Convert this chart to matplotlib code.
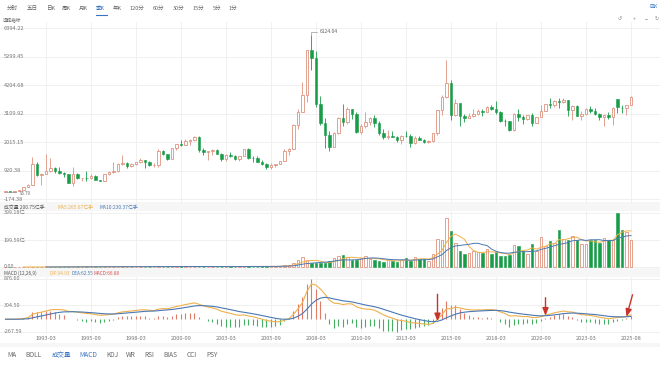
import numpy as np
import pandas as pd
import matplotlib
matplotlib.use("Agg")
import matplotlib.pyplot as plt
from matplotlib.patches import Rectangle
from matplotlib.transforms import blended_transform_factory

W_PX, H_PX = 660, 365

# ---- data: Shanghai composite, quarterly K (1990Q4 .. 2025Q3) ----
OPEN = [
    96.05, 127.61, 120.0, 137.0, 180.0,
    293.0, 382.0, 1190.0, 760.0,
    785.0, 925.0, 1007.0, 900.0,
    834.0, 780.0, 467.0, 810.0,
    648.0, 650.0, 630.0, 720.0,
    555.0, 540.0, 800.0, 860.0,
    917.0, 1190.0, 1200.0, 1100.0,
    1194.0, 1243.0, 1339.0, 1240.0,
    1147.0, 1158.0, 1690.0, 1560.0,
    1367.0, 1800.0, 1928.0, 1911.0,
    2073.0, 2112.0, 2218.0, 1700.0,
    1646.0, 1660.0, 1733.0, 1581.0,
    1358.0, 1511.0, 1487.0, 1367.0,
    1497.0, 1742.0, 1400.0, 1396.0,
    1267.0, 1181.0, 1081.0, 1156.0,
    1161.0, 1299.0, 1672.0, 1753.0,
    2675.0, 3183.0, 3821.0, 5552.0,
    5262.0, 3473.0, 2736.0, 2293.0,
    1821.0, 2373.0, 2959.0, 2779.0,
    3277.0, 3109.0, 2398.0, 2656.0,
    2808.0, 2928.0, 2762.0, 2359.0,
    2199.0, 2262.0, 2225.0, 2086.0,
    2269.0, 2237.0, 1979.0, 2175.0,
    2116.0, 2033.0, 2048.0, 2364.0,
    3235.0, 3748.0, 4277.0, 3053.0,
    3539.0, 3004.0, 2930.0, 3005.0,
    3104.0, 3223.0, 3192.0, 3349.0,
    3307.0, 3169.0, 2847.0, 2821.0,
    2494.0, 3091.0, 2979.0, 2905.0,
    3050.0, 2750.0, 2985.0, 3218.0,
    3473.0, 3441.0, 3591.0, 3568.0,
    3640.0, 3252.0, 3399.0, 3024.0,
    3089.0, 3273.0, 3202.0, 3110.0,
    2975.0, 3041.0, 2967.0, 3674.0,
    3347.0, 3345.0, 3445.0,
]
HIGH = [
    127.61, 135.0, 137.0, 190.0, 293.0,
    400.0, 1429.0, 1250.0, 830.0,
    1558.0, 1393.0, 1060.0, 1044.0,
    880.0, 800.0, 1052.0, 820.0,
    650.0, 926.0, 800.0, 760.0,
    570.0, 800.0, 890.0, 1258.0,
    1200.0, 1510.0, 1250.0, 1220.0,
    1260.0, 1422.0, 1350.0, 1300.0,
    1210.0, 1756.0, 1720.0, 1580.0,
    1810.0, 1950.0, 2114.0, 2125.0,
    2150.0, 2245.0, 2242.0, 1800.0,
    1690.0, 1748.0, 1748.0, 1600.0,
    1565.0, 1650.0, 1520.0, 1500.0,
    1760.0, 1783.0, 1500.0, 1500.0,
    1328.0, 1200.0, 1224.0, 1180.0,
    1306.0, 1757.0, 1800.0, 2698.0,
    3275.0, 4336.0, 5555.0, 6124.04,
    5522.0, 3786.0, 2952.0, 2447.0,
    2420.0, 2990.0, 3478.0, 3361.0,
    3306.0, 3182.0, 2700.0, 3186.0,
    3000.0, 3067.0, 2827.0, 2536.0,
    2478.0, 2453.0, 2242.0, 2280.0,
    2444.0, 2334.0, 2270.0, 2260.0,
    2130.0, 2106.0, 2366.0, 3240.0,
    3835.0, 5178.0, 4400.0, 3684.0,
    3539.0, 3097.0, 3141.0, 3301.0,
    3301.0, 3295.0, 3391.0, 3450.0,
    3587.0, 3220.0, 2915.0, 2830.0,
    3130.0, 3288.0, 3048.0, 3069.0,
    3127.0, 3000.0, 3458.0, 3474.0,
    3731.0, 3626.0, 3723.0, 3708.0,
    3651.0, 3425.0, 3425.0, 3226.0,
    3342.0, 3419.0, 3322.0, 3123.0,
    3092.0, 3175.0, 3358.0, 3674.0,
    3440.0, 3455.0, 3780.0,
]
LOW = [
    95.79, 114.0, 105.0, 136.0, 179.0,
    292.0, 380.0, 700.0, 386.0,
    780.0, 870.0, 820.0, 790.0,
    690.0, 460.0, 325.0, 600.0,
    524.0, 540.0, 620.0, 550.0,
    512.0, 530.0, 750.0, 850.0,
    870.0, 1140.0, 1025.0, 1050.0,
    1130.0, 1230.0, 1040.0, 1100.0,
    1050.0, 1064.0, 1520.0, 1340.0,
    1361.0, 1700.0, 1870.0, 1900.0,
    1890.0, 2070.0, 1640.0, 1514.0,
    1340.0, 1520.0, 1560.0, 1311.0,
    1311.0, 1464.0, 1340.0, 1307.0,
    1496.0, 1380.0, 1260.0, 1259.0,
    1157.0, 998.0, 1000.0, 1074.0,
    1160.0, 1290.0, 1541.0, 1738.0,
    2541.0, 3183.0, 3563.0, 4778.0,
    3357.0, 2693.0, 1802.0, 1664.0,
    1814.0, 2320.0, 2639.0, 2712.0,
    2891.0, 2382.0, 2319.0, 2574.0,
    2661.0, 2610.0, 2307.0, 2134.0,
    2132.0, 2213.0, 2029.0, 1949.0,
    2206.0, 1849.0, 1950.0, 2086.0,
    1974.0, 1991.0, 2040.0, 2289.0,
    3049.0, 3730.0, 2850.0, 3011.0,
    2638.0, 2780.0, 2930.0, 2970.0,
    3044.0, 3016.0, 3162.0, 3254.0,
    3091.0, 2782.0, 2645.0, 2449.0,
    2440.0, 2822.0, 2733.0, 2857.0,
    2646.0, 2742.0, 2984.0, 3209.0,
    3328.0, 3372.0, 3313.0, 3512.0,
    3023.0, 2863.0, 3021.0, 2886.0,
    3064.0, 3137.0, 3072.0, 2882.0,
    2635.0, 2924.0, 2689.0, 3140.0,
    3141.0, 3041.0, 3440.0,
]
CLOSE = [
    127.61, 120.0, 137.0, 180.0, 292.75,
    382.0, 1193.0, 760.0, 780.39,
    925.0, 1007.0, 900.0, 833.8,
    780.0, 467.0, 810.0, 647.87,
    648.0, 630.0, 720.0, 555.29,
    540.0, 800.0, 860.0, 917.02,
    1190.0, 1200.0, 1100.0, 1194.1,
    1243.0, 1339.0, 1240.0, 1146.7,
    1158.0, 1690.0, 1560.0, 1366.58,
    1800.0, 1928.0, 1911.0, 2073.48,
    2112.0, 2218.0, 1700.0, 1645.97,
    1660.0, 1733.0, 1581.0, 1357.65,
    1511.0, 1487.0, 1367.0, 1497.04,
    1742.0, 1400.0, 1396.0, 1266.5,
    1181.0, 1081.0, 1156.0, 1161.06,
    1299.0, 1672.0, 1753.0, 2675.47,
    3183.0, 3821.0, 5552.3, 5261.56,
    3473.0, 2736.0, 2293.0, 1820.81,
    2373.0, 2959.0, 2779.0, 3277.14,
    3109.0, 2398.0, 2656.0, 2808.08,
    2928.0, 2762.0, 2359.0, 2199.42,
    2262.0, 2225.0, 2086.0, 2269.13,
    2237.0, 1979.0, 2175.0, 2115.98,
    2033.0, 2048.0, 2364.0, 3234.68,
    3748.0, 4277.0, 3053.0, 3539.18,
    3004.0, 2930.0, 3005.0, 3103.64,
    3223.0, 3192.0, 3349.0, 3307.17,
    3169.0, 2847.0, 2821.0, 2493.9,
    3091.0, 2979.0, 2905.0, 3050.12,
    2750.0, 2985.0, 3218.0, 3473.07,
    3441.0, 3591.0, 3568.0, 3639.78,
    3252.0, 3399.0, 3024.0, 3089.26,
    3273.0, 3202.0, 3110.0, 2974.93,
    3041.0, 2967.0, 3336.5, 3351.76,
    3336.0, 3444.0, 3770.0,
]
# volume, 亿
VOLUME = [
    0.01, 0.02, 0.02, 0.03, 0.05,
    0.1, 0.2, 0.3, 0.5,
    0.9, 0.8, 0.7, 0.9,
    0.8, 0.6, 2.5, 1.5,
    1.0, 1.6, 0.9, 0.7,
    0.8, 2.0, 2.6, 3.5,
    3.0, 4.5, 2.5, 2.2,
    2.5, 3.5, 2.3, 2.0,
    1.8, 5.0, 3.5, 2.0,
    5.5, 4.5, 4.5, 4.0,
    3.5, 3.5, 2.8, 3.0,
    2.5, 4.0, 2.5, 2.5,
    4.0, 4.5, 3.0, 4.0,
    6.5, 4.5, 3.5, 3.5,
    4.0, 4.0, 5.5, 4.5,
    7.0, 15.0, 12.0, 30.0,
    55.0, 72.0, 52.0, 33.0,
    32.0, 28.0, 26.0, 42.0,
    70.0, 78.0, 90.0, 74.0,
    50.0, 50.0, 70.0, 78.0,
    62.0, 50.0, 45.0, 38.0,
    56.0, 46.0, 40.0, 51.0,
    63.0, 48.0, 75.0, 61.0,
    61.0, 48.0, 99.0, 206.0,
    196.0, 365.0, 269.0, 177.0,
    116.0, 97.0, 104.0, 116.0,
    109.0, 104.0, 133.0, 97.0,
    109.0, 80.0, 80.0, 92.0,
    165.0, 157.0, 116.0, 99.0,
    172.0, 116.0, 225.0, 152.0,
    189.0, 177.0, 273.0, 206.0,
    201.0, 230.0, 196.0, 169.0,
    169.0, 201.0, 196.0, 177.0,
    213.0, 201.0, 201.0, 399.18,
    273.0, 261.0, 200.75,
]

DATES = [f"{p.year}-{p.quarter * 3:02d}" for p in pd.period_range("1990Q4", "2025Q2", freq="Q")] + ["2025-08"]
X_TICKS = ["1993-03", "1995-09", "1998-03", "2000-09", "2003-03", "2005-09", "2008-03",
           "2010-09", "2013-03", "2015-09", "2018-03", "2020-09", "2023-03", "2025-08"]

MAIN_LEVELS = [6394.22, 5299.45, 4204.68, 3109.92, 2015.15, 920.38, -174.38]
VOL_LEVELS = [399.18, 199.59, 0.00]
VOL_LABELS = ["399.18亿", "199.59亿", "0.00"]
MACD_LEVELS = [876.60, 304.50, -267.59]

TOP_TABS = ["分时", "五日", "日K", "周K", "月K", "季K", "年K", "120分", "60分", "30分", "15分", "5分", "1分"]
BOTTOM_TABS = ["MA", "BOLL", "成交量", "MACD", "KDJ", "WR", "RSI", "BIAS", "CCI", "PSY"]
ARROW_DATES = ["2014-12", "2020-12", "2025-06"]

UP = "#df9380"
DOWN = "#179c48"
GRID = "#eeeeee"
LABEL = "#777777"
BLUE = "#3a74c4"
ORANGE = "#efb049"
DEA_BLUE = "#4a78b4"

plt.rcParams["font.family"] = ["Noto Sans CJK SC", "DejaVu Sans"]


def px_axes(fig, x0, y0, x1, y1):
    ax = fig.add_axes([x0 / W_PX, 1 - y1 / H_PX, (x1 - x0) / W_PX, (y1 - y0) / H_PX])
    ax.set_facecolor("none")
    for s in ax.spines.values():
        s.set_visible(False)
    return ax


def fit_ylim(ax, vmax, pmax, vmin, pmin, top, bottom):
    scale = (vmax - vmin) / (pmin - pmax)
    ax.set_ylim(vmin - (bottom - pmin) * scale, vmax + (pmax - top) * scale)


def fy(py):
    return 1 - py / H_PX


o = np.array(OPEN)
h = np.array(HIGH)
l = np.array(LOW)
c = np.array(CLOSE)
vol = np.array(VOLUME)
idx = np.arange(len(c))
up = c >= o
tick_pos = [DATES.index(t) for t in X_TICKS]

fig = plt.figure(figsize=(W_PX / 100, H_PX / 100), dpi=100)
fig.patch.set_facecolor("white")

# light bands behind legend rows
for y0, y1 in [(202, 211), (268, 277), (343, 347)]:
    fig.add_artist(Rectangle((0, fy(y1)), 1, (y1 - y0) / H_PX, transform=fig.transFigure,
                             facecolor="#f6f6f6", edgecolor="none", zorder=0))

xlim = (-5.5 / 4.5, (W_PX - 5.5) / 4.5)

# ---- main candle panel ----
ax = px_axes(fig, 0, 22, W_PX, 203)
fit_ylim(ax, MAIN_LEVELS[0], 28.2, MAIN_LEVELS[-1], 199.2, 22, 203)
ax.set_xlim(*xlim)
ax.set_yticks(MAIN_LEVELS)
ax.set_xticks(tick_pos)
ax.grid(True, color=GRID, lw=0.6)
ax.tick_params(length=0, labelleft=False, labelbottom=False)
ax.set_axisbelow(True)

ax.vlines(idx, l, h, colors=np.where(up, UP, DOWN), lw=0.6, zorder=2)
body_low = np.minimum(o, c)
body_h = np.abs(c - o)
ax.bar(idx[up], body_h[up], bottom=body_low[up], width=0.62, facecolor="white",
       edgecolor=UP, lw=0.6, zorder=3)
ax.bar(idx[~up], body_h[~up], bottom=body_low[~up], width=0.62, facecolor=DOWN,
       edgecolor=DOWN, lw=0.4, zorder=3)

for v in MAIN_LEVELS:
    ax.text(4 / W_PX, v, f"{v:.2f}", transform=blended_transform_factory(ax.transAxes, ax.transData),
            ha="left", va="center", fontsize=4.1, color=LABEL)

ipk = int(np.argmax(h))
ax.annotate(f"{h[ipk]:.2f}", xy=(ipk, h[ipk]), xytext=(8, 3.5), textcoords="offset pixels",
            ha="left", va="center", fontsize=3.6, color="#666666",
            arrowprops=dict(arrowstyle="-", color="#999999", lw=0.5, shrinkA=0, shrinkB=0,
                            connectionstyle="angle,angleA=0,angleB=90,rad=0"))
ilo = int(np.argmin(l))
ax.annotate(f"{l[ilo]:.2f}", xy=(ilo, l[ilo]), xytext=(14, -1), textcoords="offset pixels",
            ha="left", va="center", fontsize=3.2, color="#666666",
            arrowprops=dict(arrowstyle="-", color="#999999", lw=0.5, shrinkA=0, shrinkB=0))

# ---- volume panel ----
axv = px_axes(fig, 0, 211, W_PX, 268)
fit_ylim(axv, VOL_LEVELS[0], 213, VOL_LEVELS[-1], 267, 211, 268)
axv.set_xlim(*xlim)
axv.set_yticks(VOL_LEVELS)
axv.set_xticks(tick_pos)
axv.grid(True, color=GRID, lw=0.6)
axv.tick_params(length=0, labelleft=False, labelbottom=False)
axv.set_axisbelow(True)
axv.bar(idx[up], vol[up], width=0.62, facecolor="white", edgecolor=UP, lw=0.6, zorder=3)
axv.bar(idx[~up], vol[~up], width=0.62, facecolor=DOWN, edgecolor=DOWN, lw=0.4, zorder=3)
vs = pd.Series(vol)
axv.plot(idx, vs.rolling(5).mean(), color=ORANGE, lw=0.7, zorder=4)
axv.plot(idx, vs.rolling(10).mean(), color=DEA_BLUE, lw=0.7, zorder=4)
for v, s in zip(VOL_LEVELS, VOL_LABELS):
    axv.text(4 / W_PX, v, s, transform=blended_transform_factory(axv.transAxes, axv.transData),
             ha="left", va="center", fontsize=3.9, color=LABEL)

fig.text(4 / W_PX, fy(207.3), "成交量 200.75亿手", fontsize=3.5, color="#555555", va="center")
fig.text(57 / W_PX, fy(207.3), "MA5:265.67亿手", fontsize=3.5, color=ORANGE, va="center")
fig.text(99 / W_PX, fy(207.3), "MA10:230.37亿手", fontsize=3.5, color=DEA_BLUE, va="center")

# ---- MACD panel ----
cs = pd.Series(c)
dif = cs.ewm(span=12, adjust=False).mean() - cs.ewm(span=26, adjust=False).mean()
dea = dif.ewm(span=9, adjust=False).mean()
hist = 2 * (dif - dea)

axm = px_axes(fig, 0, 277, W_PX, 334)
fit_ylim(axm, MACD_LEVELS[0], 279, MACD_LEVELS[-1], 331.5, 277, 334)
axm.set_xlim(*xlim)
axm.set_yticks(MACD_LEVELS)
axm.set_xticks(tick_pos, X_TICKS)
axm.grid(True, color=GRID, lw=0.6)
axm.tick_params(length=0, labelleft=False, labelsize=4.1, labelcolor=LABEL, pad=1.8)
axm.set_axisbelow(True)
axm.vlines(idx, 0, hist, colors=np.where(hist >= 0, "#e07b68", "#45b062"), lw=0.8, zorder=3)
axm.plot(idx, dif, color=ORANGE, lw=0.8, zorder=4)
axm.plot(idx, dea, color=DEA_BLUE, lw=0.8, zorder=4)
for v in MACD_LEVELS:
    axm.text(4 / W_PX, v, f"{v:.2f}", transform=blended_transform_factory(axm.transAxes, axm.transData),
             ha="left", va="center", fontsize=3.9, color=LABEL)

for d, off in zip(ARROW_DATES, [(0, 27), (0, 18), (6, 22)]):
    k = DATES.index(d)
    axm.annotate("", xy=(k, dea[k]), xytext=off, textcoords="offset pixels",
                 arrowprops=dict(arrowstyle="-|>,head_length=0.45,head_width=0.18", color="#c8332b",
                                 lw=1.0, shrinkA=0, shrinkB=0), zorder=6)

fig.text(4 / W_PX, fy(273.3), "MACD (12,26,9)", fontsize=3.4, color="#555555", va="center")
fig.text(49 / W_PX, fy(273.3), "DIF:94.93", fontsize=3.4, color=ORANGE, va="center")
fig.text(71 / W_PX, fy(273.3), "DEA:62.55", fontsize=3.4, color=DEA_BLUE, va="center")
fig.text(93 / W_PX, fy(273.3), "MACD:66.88", fontsize=3.4, color="#d9534f", va="center")

# ---- top tab bar ----
for name, x in zip(TOP_TABS, [7, 27, 46, 62, 79, 96, 113, 130, 153, 173, 193, 213, 229]):
    active = name == "季K"
    fig.text(x / W_PX, fy(8.5), name, fontsize=4.0, color=BLUE if active else "#666666", va="center")
    if active:
        fig.add_artist(plt.Line2D([x / W_PX, (x + 11) / W_PX], [fy(14.5), fy(14.5)], color=BLUE, lw=0.8))
fig.text(3 / W_PX, fy(19.5), "选择指标", fontsize=3.3, color="#666666", va="center")
fig.text(650 / W_PX, fy(7), "区K", fontsize=3.6, color=BLUE, va="center")
for s, x in zip(["↺", "+", "−", "↻"], [620, 634, 646, 657]):
    fig.text(x / W_PX, fy(19), s, fontsize=3.6, color="#888888", va="center", ha="center")

# ---- bottom indicator tabs ----
for name, x in zip(BOTTOM_TABS, [7, 25, 52, 79, 106, 126, 144, 163, 187, 206]):
    color = BLUE if name in ("成交量", "MACD") else "#666666"
    fig.text(x / W_PX, fy(355), name, fontsize=4.7, color=color, va="center")

fig.savefig("out.png", dpi=100)
